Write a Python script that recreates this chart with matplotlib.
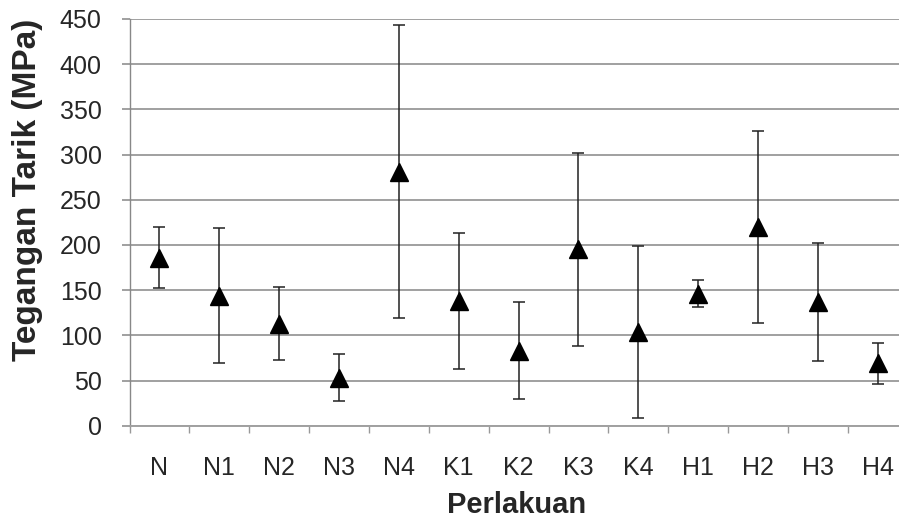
import matplotlib
matplotlib.use("Agg")
import matplotlib.pyplot as plt
import numpy as np

categories = ["N", "N1", "N2", "N3", "N4", "K1", "K2", "K3", "K4", "H1", "H2", "H3", "H4"]
means = [186, 144, 113, 53, 281, 138, 83, 195, 104, 146, 220, 137, 69]
errors = [34, 75, 40, 26, 162, 75, 54, 107, 95, 15, 106, 65, 23]
yticks = [0, 50, 100, 150, 200, 250, 300, 350, 400, 450]

plt.rcParams['font.family'] = ['Liberation Sans', 'DejaVu Sans']

W, H = 899, 521
fig = plt.figure(figsize=(W / 100, H / 100), dpi=100)
left, right = 129.5, 907.7
top, bottom = 19.0, 425.7
ax = fig.add_axes([left / W, 1 - bottom / H, (right - left) / W, (bottom - top) / H])

x = np.arange(len(categories))
ax.errorbar(x, means, yerr=errors, fmt='none', ecolor='#222222', elinewidth=1.1,
            capsize=4.3, capthick=1.1, zorder=3)
ax.plot(x, means, linestyle='none', marker='^', markersize=12.5, color='black', zorder=4)

ax.set_xlim(-0.5, len(categories) - 0.5)
ax.set_ylim(0, 450)
ax.set_yticks(yticks)
ax.set_yticklabels([str(v) for v in yticks])
ax.yaxis.grid(True, color='#a0a0a0', linewidth=1.4)
ax.set_axisbelow(True)

ax.set_xticks(x)
ax.set_xticklabels(categories)
ax.set_xticks(np.arange(-0.5, len(categories), 1), minor=True)
ax.tick_params(axis='x', which='major', length=0, pad=22, labelsize=18, labelcolor='#262626')
ax.tick_params(axis='x', which='minor', length=5, color='#999999', width=1, direction='out')
ax.tick_params(axis='y', which='major', length=6, color='#a0a0a0', width=1.4, pad=14,
               labelsize=18, labelcolor='#262626')

for s in ['top', 'right']:
    ax.spines[s].set_visible(False)
ax.spines['left'].set_color('#888888')
ax.spines['left'].set_linewidth(1.0)
ax.spines['bottom'].set_color('#a0a0a0')
ax.spines['bottom'].set_linewidth(1.4)

fig.text(28 / W, 1 - 190 / H, 'Tegangan Tarik (MPa)', rotation=90, ha='center', va='center',
         fontsize=24, fontweight='bold', color='#262626')
fig.text(517 / W, 1 - 505 / H, 'Perlakuan', ha='center', va='center',
         fontsize=21, fontweight='bold', color='#262626')

fig.savefig('out.png', dpi=100)
